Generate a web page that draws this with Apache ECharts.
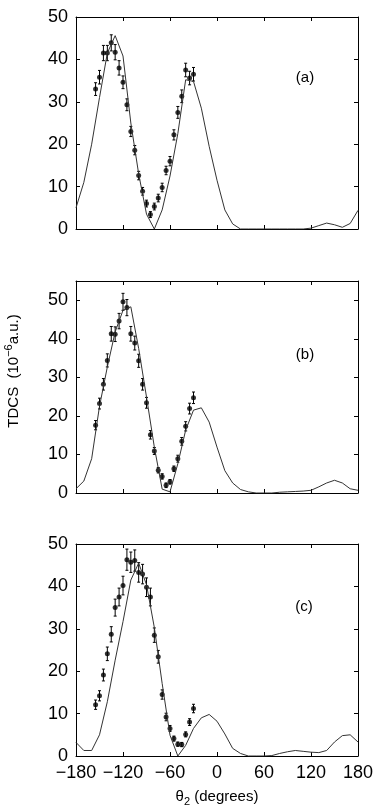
<!DOCTYPE html>
<html><head><meta charset="utf-8">
<script src="https://cdn.jsdelivr.net/npm/echarts@6/dist/echarts.min.js"></script>
<style>html,body{margin:0;padding:0;background:#fff}#c{width:382px;height:810px}</style>
</head><body><div id="c"></div>
<script>
// theory curves (10 degree grid)
const thetaTheory = [-180,-170,-160,-150,-140,-130,-120,-110,-100,-90,-80,-70,-60,-50,-40,-30,-20,-10,0,10,20,30,40,50,60,70,80,90,100,110,120,130,140,150,160,170,180];
const theoryA = [5.0,11.0,20.0,31.0,41.5,45.6,40.8,25.0,13.0,3.5,0.0,4.5,12.5,22.5,35.2,34.8,28.5,19.5,11.5,4.5,1.2,0.0,0.0,0.0,0.0,0.0,0.0,0.0,0.0,0.0,0.2,0.8,1.4,1.0,0.4,1.3,4.4];
const theoryB = [1.1,3.1,8.9,22.5,32.7,41.8,47.4,48.3,37.5,24.9,11.9,1.0,0.3,7.6,16.3,21.5,22.1,18.4,11.9,5.8,2.6,0.9,0.3,0.0,0.0,0.0,0.2,0.3,0.4,0.5,0.7,1.6,2.6,3.3,2.6,1.1,0.7];
const theoryC = [3.2,1.3,1.3,5.0,12.8,22.6,31.7,41.5,45.5,40.4,30.3,17.1,4.9,0.0,2.5,6.5,9.0,9.8,8.2,5.2,1.8,0.6,0.0,0.0,0.0,0.1,0.6,1.0,1.3,1.1,0.9,0.8,1.3,3.3,4.8,5.0,3.3];
// experimental points
const thetaExp = [-155,-150,-145,-140,-135,-130,-125,-120,-115,-110,-105,-100,-95,-90,-85,-80,-75,-70,-65,-60,-55,-50,-45,-40,-35,-30];
const expA = [33.0,35.8,41.5,41.5,43.9,41.7,38.0,34.6,29.3,23.0,18.6,12.6,8.9,6.0,3.4,5.3,7.3,9.8,13.8,16.0,22.2,27.5,31.3,37.5,35.6,36.5];
const errA = [1.5,1.6,1.8,1.8,1.9,1.8,1.7,1.5,1.4,1.2,1.1,1.0,0.9,0.8,0.7,0.8,0.9,1.0,1.0,1.1,1.2,1.4,1.5,1.6,1.6,1.6];
const expB = [17.6,23.2,28.2,34.4,41.3,41.2,44.6,49.6,48.1,41.3,38.9,34.3,28.2,23.4,15.1,10.9,5.9,4.3,2.0,2.9,6.3,8.9,13.4,17.3,21.9,24.7];
const errB = [1.2,1.4,1.5,1.7,1.9,1.9,2.0,2.2,2.1,1.9,1.8,1.7,1.5,1.4,1.1,0.9,0.7,0.7,0.6,0.6,0.7,0.9,1.0,1.2,1.4,1.5];
const expC = [12.1,14.2,19.1,24.1,28.7,35.0,37.5,40.2,46.3,45.7,46.1,43.3,42.9,39.8,37.5,28.5,23.4,14.5,9.2,6.5,4.1,2.8,2.7,5.1,8.0,11.2];
const errC = [1.1,1.2,1.4,1.6,1.8,2.0,2.1,2.2,2.5,2.4,2.5,2.3,2.3,2.2,2.1,1.7,1.5,1.1,0.9,0.7,0.6,0.5,0.5,0.6,0.8,1.0];
const yMaxes = [50, 55, 50];
const panelTags = ['(a)', '(b)', '(c)'];
const xTicks = [-180,-120,-60,0,60,120,180];

const FONT = 'Liberation Sans, Arial, Helvetica, sans-serif';
const chart = echarts.init(document.getElementById('c'), null, {renderer:'canvas'});
const grids = [
  {left:76, top:17, width:282, height:212},
  {left:76, top:281, width:282, height:212},
  {left:76, top:544, width:282, height:212}
];
const tagPos = [[305,78],[305,355],[304,607]];
const theories = [theoryA, theoryB, theoryC];
const exps = [expA, expB, expC];
const errs = [errA, errB, errC];
const fmtX = v => (v < 0 ? '\u2212' + Math.abs(v) : String(v));

const xAxis = [], yAxis = [], series = [];
for (let i = 0; i < 3; i++) {
  const common = {type:'value', gridIndex:i, min:xTicks[0], max:xTicks[xTicks.length-1], interval:60,
    splitLine:{show:false}, axisLine:{show:true, onZero:false, lineStyle:{color:'#000', width:1}},
    axisTick:{show:true, inside:true, length:4, lineStyle:{color:'#000'}}};
  xAxis.push(Object.assign({}, common, {position:'bottom',
    axisLabel:{show:i===2, formatter:fmtX, fontSize:18, color:'#000', fontFamily:FONT, margin:8}}));
  xAxis.push(Object.assign({}, common, {position:'top', axisLabel:{show:false}}));
  const yc = {type:'value', gridIndex:i, min:0, max:yMaxes[i], interval:10, splitLine:{show:false},
    axisLine:{show:true, onZero:false, lineStyle:{color:'#000', width:1}},
    axisTick:{show:true, inside:true, length:4, lineStyle:{color:'#000'}}};
  yAxis.push(Object.assign({}, yc, {position:'left',
    axisLabel:{show:true, fontSize:18, color:'#000', fontFamily:FONT, margin:8, showMaxLabel: yMaxes[i] === 50,
      formatter: v => (v % 10 === 0 ? String(v) : '')}}));
  yAxis.push(Object.assign({}, yc, {position:'right', axisLabel:{show:false}}));

  series.push({type:'line', xAxisIndex:2*i, yAxisIndex:2*i, showSymbol:false, symbol:'none',
    lineStyle:{color:'#333', width:1}, data: thetaTheory.map((t,k)=>[t, theories[i][k]]), silent:true, animation:false});
  series.push({type:'custom', xAxisIndex:2*i, yAxisIndex:2*i, animation:false, silent:true,
    data: thetaExp.map((t,k)=>[t, exps[i][k]-errs[i][k], exps[i][k]+errs[i][k]]),
    encode:{x:0, y:[1,2]},
    renderItem:(params, api) => {
      const x = api.value(0);
      const lo = api.coord([x, api.value(1)]);
      const hi = api.coord([x, api.value(2)]);
      const st = {stroke:'#000', lineWidth:1};
      return {type:'group', children:[
        {type:'line', shape:{x1:lo[0], y1:lo[1], x2:hi[0], y2:hi[1]}, style:st},
        {type:'line', shape:{x1:lo[0]-1.5, y1:lo[1], x2:lo[0]+1.5, y2:lo[1]}, style:st},
        {type:'line', shape:{x1:hi[0]-1.5, y1:hi[1], x2:hi[0]+1.5, y2:hi[1]}, style:st}
      ]};
    }});
  series.push({type:'scatter', xAxisIndex:2*i, yAxisIndex:2*i, symbol:'circle', symbolSize:5,
    itemStyle:{color:'#000'}, data: thetaExp.map((t,k)=>[t, exps[i][k]]), animation:false, silent:true});
}

const graphic = [];
for (let i = 0; i < 3; i++) {
  graphic.push({type:'text', x:tagPos[i][0], y:tagPos[i][1],
    style:{text:panelTags[i], fontSize:15, fontFamily:FONT, fill:'#000', textAlign:'center', textVerticalAlign:'middle'}});
}
graphic.push({type:'text', x:217, y:797,
  style:{text:'{t|\u03b8}{s|2}{t| (degrees)}', textAlign:'center', textVerticalAlign:'middle', fill:'#000',
    rich:{t:{fontSize:15, fontFamily:FONT, fill:'#000'}, s:{fontSize:11, fontFamily:FONT, fill:'#000', padding:[9,0,0,0]}}}});
graphic.push({type:'text', x:14, y:371, rotation:Math.PI/2,
  style:{text:'{t|TDCS  (10}{s|\u22126}{t|a.u.)}', textAlign:'center', textVerticalAlign:'middle', fill:'#000',
    rich:{t:{fontSize:15, fontFamily:FONT, fill:'#000'}, s:{fontSize:11, fontFamily:FONT, fill:'#000', padding:[0,0,10,0]}}}});

chart.setOption({animation:false, backgroundColor:'#fff', grid:grids, xAxis, yAxis, series, graphic});
</script></body></html>
